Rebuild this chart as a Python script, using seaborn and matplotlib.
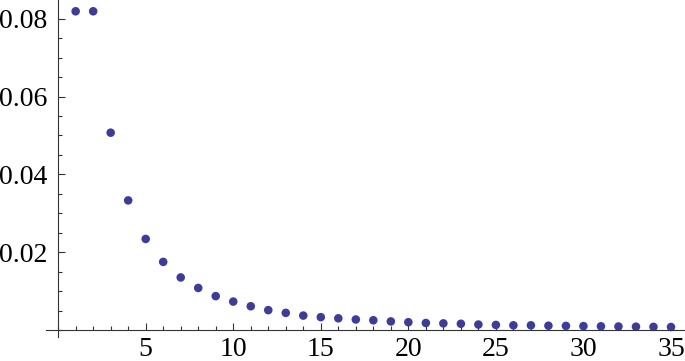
import numpy as np
import pandas as pd
import matplotlib.pyplot as plt
from matplotlib.ticker import MultipleLocator
import seaborn as sns

# values
n = list(range(1, 36))
p = [0.0819, 0.0819, 0.0507, 0.0333, 0.0234, 0.0175, 0.0135, 0.0108,
     0.0087, 0.0073, 0.0061, 0.0051, 0.0044, 0.0037, 0.0033, 0.0030,
     0.0027, 0.0025, 0.0022, 0.0020, 0.0018, 0.0017, 0.0016, 0.0014,
     0.0013, 0.0012, 0.0012, 0.0011, 0.00105, 0.0010, 0.00095, 0.0009,
     0.00085, 0.0008, 0.00077]

df = pd.DataFrame({"n": n, "p": p})

sns.set_style("white")
plt.rcParams["font.family"] = ["Liberation Serif", "DejaVu Serif"]

fig = plt.figure(figsize=(6.85, 3.61), dpi=100)
ax = fig.add_axes([0.067, 0.0665, 0.933, 0.9335])

sns.scatterplot(data=df, x="n", y="p", ax=ax, color="#3d3d99",
                s=38, edgecolor="none", linewidth=0)

ax.set_xlim(-0.7, 35.8)
ax.set_ylim(-0.0018, 0.0848)

for side in ["top", "right"]:
    ax.spines[side].set_visible(False)
ax.spines["left"].set_position(("data", 0))
ax.spines["bottom"].set_position(("data", 0))
for side in ["left", "bottom"]:
    ax.spines[side].set_color("#333333")
    ax.spines[side].set_linewidth(0.8)

ax.xaxis.set_minor_locator(MultipleLocator(1))
ax.yaxis.set_minor_locator(MultipleLocator(0.005))
ax.set_xticks([5, 10, 15, 20, 25, 30, 35])
ax.set_yticks([0.02, 0.04, 0.06, 0.08])
ax.set_yticklabels(["0.02", "0.04", "0.06", "0.08"])

ax.tick_params(which="both", direction="in", color="#333333", width=0.8,
               labelsize=20, labelcolor="black", bottom=True, left=True)
ax.tick_params(which="major", length=5)
ax.tick_params(which="minor", length=3)
ax.tick_params(axis="x", pad=5)
ax.tick_params(axis="y", pad=8)

ax.set_xlabel("")
ax.set_ylabel("")
ax.patch.set_alpha(0)

fig.savefig("out.png", dpi=100)
